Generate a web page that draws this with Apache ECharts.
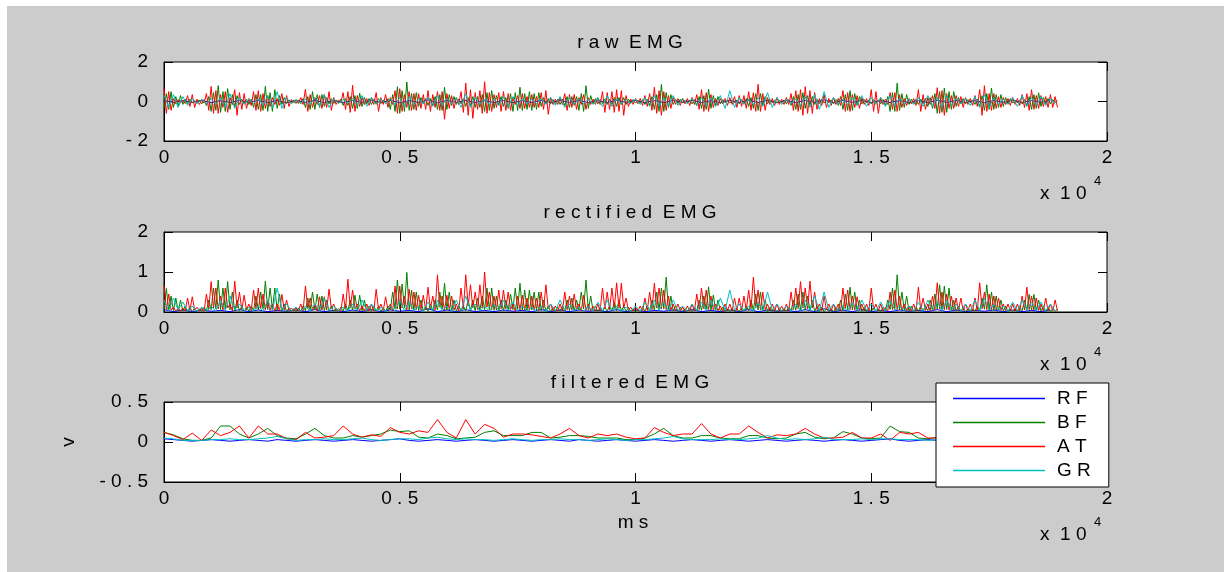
<!DOCTYPE html>
<html>
<head>
<meta charset="utf-8">
<script src="https://cdn.jsdelivr.net/npm/echarts@6/dist/echarts.min.js"></script>
<style>
html,body{margin:0;padding:0;background:#fff;}
#wrap{position:relative;width:1224px;height:572px;overflow:hidden;background:#fff;}
#bg{position:absolute;left:7px;top:6px;width:1217px;height:566px;background:#cccccc;}
#chart{position:absolute;left:0;top:0;width:1224px;height:572px;}
</style>
</head>
<body>
<div id="wrap"><div id="bg"></div><div id="chart"></div></div>
<script>
// ---- data ----
const seriesNames = ['RF', 'BF', 'AT', 'GR'];
const titles = ['raw EMG', 'rectified EMG', 'filtered EMG'];
const xTickScale = 10000;                       // axis shows x 10^4
const step50 = 50, step100 = 100, step200 = 200; // ms between samples

// raw EMG
const rawRF = [.06,-.05,.05,-.04,.05,-.06,.04,-.05,.06,-.04,
.05,-.05,.04,-.06,.05,-.04,.06,-.05,.04,-.05,
.05,-.04,.06,-.05,.05,-.06,.04,-.05,.08,-.06,
.05,-.04,.06,-.05,.04,-.05,.05,-.06,.04,-.05,
.06,-.05,.05,-.04,.05,-.06,.04,-.05,.06,-.04,
.05,-.05,.04,-.06,.05,-.04,.06,-.05,.04,-.05,
.05,-.04,.06,-.05,.05,-.06,.04,-.05,.06,-.04,
.08,-.06,.05,-.04,.06,-.05,.04,-.05,.05,-.06,
.04,-.05,.06,-.04,.05,-.05,.04,-.06,.05,-.04,
.06,-.05,.05,-.04,.05]; // 200 ms
const rawBF = [-.35,.4,-.4,.5,-.3,.25,-.25,.3,-.15,.12,
-.1,.12,-.08,.06,-.06,.08,-.12,.1,-.2,.25,
-.5,.45,-.45,.8,-.55,.5,-.5,.65,-.4,.35,
-.25,.3,-.15,.12,-.1,.12,-.15,.12,-.3,.35,
-.4,.35,-.45,.77,-.5,.45,-.5,.6,-.35,.3,
-.15,.2,-.1,.08,-.06,.08,-.1,.08,-.12,.15,
-.3,.25,-.4,.5,-.4,.35,-.3,.35,-.25,.2,
-.12,.15,-.1,.08,-.1,.12,-.2,.15,-.2,.25,
-.35,.3,-.35,.42,-.25,.2,-.12,.15,-.15,.12,
-.12,.15,-.1,.08,-.12,.15,-.4,.35,-.5,.75,
-.6,.55,-.5,.99,-.45,.4,-.4,.45,-.25,.2,
-.12,.15,-.2,.15,-.2,.25,-.4,.35,-.45,.72,
-.4,.35,-.2,.25,-.15,.12,-.12,.15,-.25,.2,
-.2,.25,-.3,.25,-.3,.35,-.5,.45,-.45,.55,
-.35,.3,-.2,.25,-.25,.2,-.35,.4,-.5,.45,
-.45,.72,-.45,.4,-.4,.5,-.45,.4,-.4,.45,
-.25,.2,-.12,.15,-.12,.1,-.1,.12,-.15,.12,
-.2,.25,-.3,.25,-.2,.25,-.45,.4,-.5,.8,
-.35,.3,-.12,.15,-.12,.1,-.1,.12,-.15,.12,
-.15,.2,-.25,.2,-.15,.2,-.15,.12,-.08,.1,
-.08,.06,-.08,.1,-.15,.12,-.2,.25,-.4,.35,
-.5,.87,-.5,.45,-.3,.35,-.15,.12,-.1,.12,
-.08,.06,-.06,.08,-.12,.1,-.2,.25,-.35,.3,
-.4,.63,-.35,.3,-.2,.25,-.12,.1,-.06,.08,
-.08,.06,-.06,.08,-.12,.1,-.12,.15,-.25,.2,
-.35,.4,-.45,.4,-.2,.25,-.12,.1,-.06,.08,
-.08,.06,-.06,.08,-.12,.1,-.2,.25,-.4,.35,
-.4,.45,-.35,.3,-.2,.25,-.15,.12,-.1,.12,
-.08,.06,-.06,.08,-.12,.1,-.2,.25,-.4,.35,
-.45,.55,-.45,.4,-.2,.25,-.12,.1,-.06,.08,
-.12,.1,-.06,.08,-.12,.1,-.2,.25,-.5,.45,
-.5,.93,-.45,.4,-.3,.35,-.15,.12,-.1,.12,
-.15,.12,-.12,.15,-.25,.2,-.35,.4,-.6,.5,
-.55,.68,-.55,.5,-.4,.5,-.25,.2,-.12,.15,
-.12,.1,-.06,.08,-.15,.12,-.25,.3,-.45,.4,
-.4,.68,-.4,.35,-.3,.35,-.25,.2,-.12,.15,
-.08,.06,-.06,.08,-.12,.1,-.2,.25,-.4,.35,
-.35,.44,-.25,.2,-.12,.15,-.12,.1,-.06,.08]; // 50 ms
const rawAT = [.67,-.6,.5,-.45,.15,-.12,.1,-.08,.08,-.1,
.3,-.25,.35,-.3,.12,-.15,.1,-.08,.4,-.45,
.76,-.6,.55,-.6,.35,-.3,.5,-.55,.2,-.15,
.6,-.7,.45,-.4,.4,-.35,.15,-.2,.5,-.45,
.55,-.5,.4,-.35,.3,-.25,.2,-.15,.15,-.2,
.4,-.35,.3,-.25,.1,-.08,.08,-.1,.2,-.15,
.62,-.5,.35,-.3,.2,-.15,.3,-.35,.35,-.3,
.5,-.45,.2,-.15,.08,-.06,.45,-.4,.5,-.55,
.82,-.5,.3,-.25,.2,-.15,.15,-.2,.2,-.15,
.45,-.5,.2,-.15,.35,-.3,.2,-.15,.55,-.6,
.65,-.5,.35,-.3,.5,-.45,.4,-.45,.4,-.35,
.35,-.4,.55,-.5,.35,-.3,.5,-.45,.5,-.9,
.4,-.35,.3,-.35,.2,-.15,.5,-.55,.93,-.7,
.6,-.85,.45,-.4,.55,-.6,1.0,-.6,.45,-.5,
.35,-.3,.45,-.5,.5,-.45,.4,-.45,.2,-.15,
.3,-.35,.4,-.35,.25,-.3,.35,-.3,.25,-.3,
.45,-.4,.55,-.65,.2,-.15,.12,-.15,.2,-.15,
.4,-.45,.35,-.3,.35,-.4,.2,-.15,.35,-.4,
.2,-.15,.12,-.15,.2,-.15,.5,-.55,.45,-.4,
.5,-.55,.6,-.5,.55,-.7,.3,-.25,.12,-.15,
.15,-.12,.15,-.2,.3,-.25,.4,-.45,.72,-.6,
.55,-.7,.5,-.45,.3,-.35,.2,-.15,.15,-.2,
.15,-.12,.15,-.2,.2,-.15,.35,-.4,.6,-.5,
.45,-.5,.35,-.3,.15,-.2,.15,-.12,.15,-.2,
.2,-.15,.25,-.3,.3,-.25,.3,-.35,.5,-.45,
.45,-.5,.87,-.5,.4,-.45,.2,-.15,.15,-.2,
.2,-.15,.12,-.15,.2,-.15,.4,-.45,.55,-.5,
.6,-.7,.75,-.6,.55,-.6,.45,-.4,.15,-.2,
.35,-.3,.15,-.2,.2,-.15,.15,-.2,.55,-.5,
.45,-.5,.35,-.3,.3,-.35,.2,-.15,.15,-.2,
.6,-.5,.5,-.6,.2,-.15,.12,-.15,.45,-.4,
.45,-.5,.35,-.3,.15,-.2,.15,-.12,.15,-.2,
.6,-.5,.35,-.4,.2,-.15,.3,-.35,.7,-.6,
.55,-.7,.4,-.35,.3,-.35,.3,-.25,.25,-.3,
.2,-.15,.15,-.2,.3,-.25,.6,-.7,.8,-.5,
.4,-.45,.4,-.35,.25,-.3,.2,-.15,.15,-.2,
.2,-.15,.15,-.2,.35,-.3,.4,-.45,.6,-.4,
.3,-.35,.3,-.25,.25,-.3,.35,-.3,.25,-.3]; // 50 ms
const rawGR = [.3,-.3,.35,-.3,.25,-.2,.15,-.12,.12,-.1,
.15,-.15,.2,-.3,.4,-.35,.2,-.15,.12,-.1,
.15,-.2,.3,-.3,.5,-.35,.2,-.12,.1,-.1,
.12,-.15,.2,-.25,.35,-.3,.15,-.1,.1,-.1,
.15,-.2,.3,-.25,.2,-.15,.12,-.1,.12,-.15,
.2,-.3,.25,-.2,.15,-.12,.2,-.25,.3,-.2,
.15,-.12,.2,-.3,.4,-.3,.2,-.15,.12,-.15,
.15,-.2,.25,-.3,.25,-.2,.15,-.12,.12,-.1,
.12,-.15,.2,-.2,.25,-.3,.2,-.15,.12,-.1,
.12,-.15,.2,-.25,.3,-.25,.15,-.12,.1,-.1,
.12,-.15,.2,-.25,.3,-.25,.2,-.25,.3,-.2,
.15,-.12,.15,-.2,.2,-.25,.2,-.25,.3,-.35,
.55,-.3,.2,-.15,.12,-.15,.2,-.25,.45,-.3,
.2,-.15,.12,-.12,.15,-.2,.25,-.3,.35,-.4,
.5,-.3,.2,-.15,.12,-.15,.2,-.2,.3,-.25,
.2,-.15,.2,-.25,.3,-.2,.15,-.12,.12,-.15,
.2,-.25,.3,-.25,.2,-.3,.3,-.2,.15,-.12,
.15,-.2,.25,-.3,.35,-.3,.2,-.15,.12,-.15,
.2,-.25,.3,-.25,.2,-.2,.25,-.2,.15,-.15]; // 100 ms

// rectified EMG
const recRF = [.06,.01,.05,.01,.05,.02,.04,.01,.06,.01,
.05,.01,.04,.02,.05,.01,.06,.01,.04,.01,
.05,.01,.06,.01,.05,.02,.04,.01,.08,.01,
.05,.01,.06,.01,.04,.01,.05,.02,.04,.01,
.06,.01,.05,.01,.05,.02,.04,.01,.06,.01,
.05,.01,.04,.02,.05,.01,.06,.01,.04,.01,
.05,.01,.06,.01,.05,.02,.04,.01,.06,.01,
.08,.01,.05,.01,.06,.01,.04,.01,.05,.02,
.04,.01,.06,.01,.05,.01,.04,.02,.05,.01,
.05,.01,.04,.01,.05]; // 200 ms
const recBF = [.05,.59,.04,.4,.03,.35,.03,.3,.02,.15,
.02,.12,.01,.1,.01,.08,.02,.12,.03,.3,
.06,.6,.08,.8,.06,.6,.08,.76,.05,.5,
.03,.3,.02,.15,.02,.12,.02,.15,.04,.4,
.05,.5,.08,.77,.06,.6,.06,.6,.05,.45,
.02,.2,.01,.1,.01,.08,.01,.1,.02,.15,
.03,.35,.05,.5,.05,.45,.04,.4,.03,.3,
.02,.15,.01,.1,.01,.12,.02,.2,.03,.3,
.04,.42,.04,.42,.03,.3,.02,.15,.02,.15,
.02,.15,.01,.1,.02,.15,.05,.5,.08,.8,
.07,.7,.1,.99,.05,.55,.05,.5,.03,.3,
.02,.15,.02,.2,.03,.3,.05,.5,.07,.72,
.05,.5,.03,.3,.02,.15,.02,.15,.03,.3,
.03,.3,.03,.35,.04,.4,.06,.6,.06,.6,
.04,.4,.03,.3,.03,.3,.05,.45,.06,.6,
.07,.72,.05,.55,.05,.55,.05,.5,.05,.5,
.03,.3,.02,.15,.01,.12,.01,.12,.02,.15,
.03,.3,.03,.35,.03,.3,.05,.5,.08,.8,
.04,.4,.02,.15,.01,.12,.01,.12,.02,.15,
.02,.25,.03,.3,.02,.15,.01,.12,.01,.08,
.01,.08,.01,.12,.02,.15,.03,.3,.05,.5,
.06,.6,.08,.87,.04,.4,.02,.15,.01,.12,
.01,.08,.01,.08,.01,.12,.03,.3,.04,.4,
.06,.63,.04,.42,.03,.3,.01,.12,.01,.08,
.01,.08,.01,.08,.01,.12,.02,.15,.03,.3,
.04,.45,.05,.5,.03,.3,.01,.12,.01,.08,
.01,.08,.01,.08,.01,.12,.03,.3,.04,.45,
.05,.5,.04,.4,.03,.3,.02,.15,.01,.12,
.01,.08,.01,.08,.01,.12,.03,.3,.04,.45,
.06,.62,.05,.5,.03,.3,.01,.12,.01,.08,
.01,.12,.01,.08,.01,.12,.03,.3,.06,.6,
.08,.93,.05,.5,.04,.4,.02,.15,.01,.12,
.02,.15,.02,.15,.03,.3,.05,.45,.07,.68,
.06,.65,.06,.6,.03,.3,.02,.15,.01,.12,
.01,.08,.01,.08,.02,.15,.03,.35,.07,.68,
.05,.5,.04,.4,.03,.3,.02,.15,.01,.08,
.01,.08,.01,.12,.03,.3,.04,.44,.04,.44,
.03,.3,.02,.15,.01,.12,.01,.08,.01,.08]; // 50 ms
const recAT = [.67,.06,.45,.05,.12,.02,.1,.02,.1,.03,
.35,.04,.38,.05,.12,.02,.1,.02,.45,.06,
.76,.1,.6,.08,.4,.05,.6,.1,.2,.03,
.77,.1,.5,.06,.42,.05,.2,.03,.55,.08,
.6,.08,.45,.06,.3,.04,.2,.03,.2,.03,
.44,.05,.3,.04,.1,.02,.1,.02,.2,.03,
.65,.08,.35,.05,.2,.03,.38,.05,.38,.05,
.57,.08,.2,.03,.08,.01,.45,.06,.82,.1,
.55,.08,.2,.03,.15,.02,.2,.03,.2,.03,
.57,.06,.2,.03,.38,.05,.2,.03,.65,.08,
.65,.1,.4,.05,.57,.08,.5,.06,.42,.05,
.42,.05,.62,.08,.4,.05,.93,.12,.4,.05,
.42,.05,.4,.05,.2,.03,.6,.08,.93,.15,
.68,.1,.5,.06,.68,.1,1.0,.12,.5,.06,
.4,.05,.55,.08,.55,.08,.5,.06,.2,.03,
.4,.05,.42,.05,.35,.04,.4,.05,.35,.04,
.5,.06,.68,.08,.2,.03,.15,.02,.2,.03,
.5,.06,.4,.05,.45,.06,.2,.03,.42,.05,
.2,.03,.15,.02,.2,.03,.6,.08,.5,.06,
.6,.08,.73,.1,.72,.1,.35,.04,.12,.02,
.12,.02,.15,.02,.35,.04,.5,.06,.72,.1,
.6,.08,.55,.06,.4,.05,.2,.03,.2,.03,
.12,.02,.15,.02,.2,.03,.45,.06,.6,.08,
.55,.06,.4,.05,.2,.03,.15,.02,.2,.03,
.2,.03,.35,.04,.35,.04,.4,.05,.55,.08,
.87,.1,.55,.06,.5,.06,.2,.03,.2,.03,
.2,.03,.15,.02,.2,.03,.5,.06,.6,.08,
.76,.1,.6,.08,.77,.1,.5,.06,.2,.03,
.4,.05,.2,.03,.2,.03,.2,.03,.6,.08,
.55,.06,.4,.05,.38,.05,.2,.03,.2,.03,
.6,.06,.2,.03,.2,.03,.12,.02,.5,.06,
.55,.06,.4,.05,.2,.03,.15,.02,.2,.03,
.62,.06,.35,.04,.2,.03,.4,.05,.73,.08,
.5,.06,.45,.05,.4,.05,.35,.04,.35,.04,
.2,.03,.2,.03,.35,.04,.73,.08,.5,.06,
.45,.05,.4,.05,.35,.04,.2,.03,.2,.03,
.2,.03,.2,.03,.4,.05,.62,.06,.4,.05,
.35,.04,.2,.03,.35,.04,.2,.03,.3,.03]; // 50 ms
const recGR = [.3,.03,.35,.05,.25,.03,.15,.02,.12,.02,
.15,.02,.3,.04,.4,.05,.2,.03,.12,.02,
.15,.02,.3,.04,.6,.05,.2,.03,.12,.02,
.15,.02,.2,.03,.35,.04,.15,.02,.12,.02,
.2,.03,.3,.04,.2,.03,.12,.02,.15,.02,
.3,.03,.25,.03,.15,.02,.25,.03,.3,.03,
.15,.02,.3,.04,.4,.05,.2,.03,.15,.02,
.2,.03,.3,.04,.25,.03,.15,.02,.12,.02,
.15,.02,.2,.03,.3,.04,.2,.03,.12,.02,
.15,.02,.25,.03,.3,.04,.15,.02,.12,.02,
.15,.02,.25,.03,.3,.04,.25,.03,.3,.03,
.15,.02,.2,.03,.25,.03,.3,.04,.35,.04,
.55,.05,.2,.03,.15,.02,.25,.03,.5,.05,
.2,.03,.15,.02,.2,.03,.3,.04,.4,.04,
.5,.05,.2,.03,.15,.02,.25,.03,.3,.04,
.2,.02,.25,.03,.3,.04,.15,.02,.15,.02,
.25,.03,.3,.04,.25,.03,.3,.04,.2,.02,
.2,.03,.3,.04,.35,.04,.2,.03,.15,.02,
.25,.03,.3,.04,.25,.03,.25,.03,.2,.02]; // 100 ms

// filtered EMG (200 ms)
const filRF = [.04,.03,.02,.01,.02,.03,.02,.01,.02,.03,
.02,.01,.03,.02,.01,.02,.03,.02,.01,.02,
.03,.02,.01,.02,.03,.04,.02,.01,.02,.03,
.02,.01,.02,.03,.02,.01,.02,.03,.02,.01,
.02,.03,.02,.01,.03,.02,.01,.02,.03,.02,
.01,.02,.03,.02,.01,.02,.03,.02,.01,.02,
.03,.02,.01,.02,.03,.02,.01,.02,.03,.02,
.01,.02,.03,.02,.01,.02,.03,.04,.02,.01,
.02,.03,.02,.01,.02,.03,.02,.01,.02,.03,
.02,.01,.02,.03,.02];
const filBF = [.12,.09,.04,.02,.02,.05,.2,.2,.1,.05,
.1,.17,.08,.05,.04,.1,.17,.08,.05,.05,
.08,.06,.08,.1,.15,.13,.14,.06,.05,.1,
.08,.04,.05,.06,.12,.14,.08,.08,.08,.12,
.12,.05,.06,.08,.08,.07,.05,.05,.05,.03,
.03,.05,.1,.17,.08,.05,.05,.08,.08,.05,
.04,.04,.08,.08,.05,.04,.05,.1,.12,.06,
.04,.05,.13,.1,.05,.04,.05,.2,.13,.12,
.05,.04,.06,.1,.08,.05,.06,.1,.08,.05,
.04,.08,.1,.06,.04];
const filAT = [.12,.08,.03,.11,.02,.15,.08,.12,.2,.05,
.2,.1,.1,.04,.03,.12,.05,.06,.08,.2,
.1,.06,.09,.07,.18,.12,.1,.14,.12,.28,
.12,.05,.28,.1,.22,.17,.06,.1,.1,.09,
.07,.05,.1,.17,.08,.05,.1,.08,.1,.06,
.04,.05,.18,.12,.08,.1,.1,.23,.1,.05,
.1,.1,.2,.12,.05,.09,.08,.1,.17,.1,
.05,.05,.06,.12,.05,.05,.1,.02,.12,.1,
.12,.05,.05,.08,.1,.07,.1,.15,.08,.06,
.08,.12,.1,.07,.05];
const filGR = [.05,.04,.02,.02,.02,.03,.03,.04,.03,.03,
.04,.05,.07,.04,.02,.03,.03,.04,.03,.03,
.04,.05,.03,.02,.03,.04,.04,.03,.05,.06,
.04,.03,.04,.03,.03,.02,.03,.04,.03,.02,
.03,.03,.04,.03,.03,.02,.03,.04,.03,.02,
.03,.03,.04,.05,.07,.04,.03,.03,.03,.04,
.03,.03,.04,.05,.08,.05,.03,.04,.03,.04,
.06,.03,.03,.03,.04,.03,.04,.04,.03,.03,
.03,.02,.03,.04,.03,.03,.04,.04,.03,.03,
.03,.04,.03,.03,.03];

// ---- chart ----
const FONT = "'Liberation Sans', Arial, Helvetica, sans-serif";
const colors = {RF: '#0000ff', BF: '#008000', AT: '#ff0000', GR: '#00bfbf'};
const spaced = s => String(s).split('').join(' ');

const panels = [
  {top: 62, height: 79, ymin: -2, ymax: 2, yint: 2,
   data: {RF: [rawRF, step200], BF: [rawBF, step50], AT: [rawAT, step50], GR: [rawGR, step100]}},
  {top: 232, height: 80, ymin: 0, ymax: 2, yint: 1,
   data: {RF: [recRF, step200], BF: [recBF, step50], AT: [recAT, step50], GR: [recGR, step100]}},
  {top: 402, height: 80, ymin: -0.5, ymax: 0.5, yint: 0.5,
   data: {RF: [filRF, step200], BF: [filBF, step200], AT: [filAT, step200], GR: [filGR, step200]}}
];
const LEFT = 164, WIDTH = 943;

const grids = [], xAxes = [], yAxes = [], series = [], graphics = [];
const tick = {inside: true, length: 9, lineStyle: {color: '#000', width: 1}};
const lbl = {color: '#000', fontSize: 19, fontFamily: FONT};

panels.forEach((p, g) => {
  grids.push({left: LEFT, top: p.top, width: WIDTH, height: p.height, show: true,
    backgroundColor: '#fff', borderColor: '#000', borderWidth: 1, containLabel: false});
  xAxes.push({gridIndex: g, type: 'value', min: 0, max: 20000, interval: 5000, position: 'bottom',
    axisLine: {show: true, onZero: false, lineStyle: {color: '#000'}}, axisTick: tick, splitLine: {show: false},
    axisLabel: Object.assign({margin: 7, showMinLabel: true, showMaxLabel: true,
      formatter: v => spaced(+(v / xTickScale).toFixed(1))}, lbl)});
  xAxes.push({gridIndex: g, type: 'value', min: 0, max: 20000, interval: 5000, position: 'top',
    axisLine: {show: false, onZero: false}, axisTick: tick, axisLabel: {show: false}, splitLine: {show: false}});
  yAxes.push({gridIndex: g, type: 'value', min: p.ymin, max: p.ymax, interval: p.yint, position: 'left',
    axisLine: {show: true, onZero: false, lineStyle: {color: '#000'}}, axisTick: tick, splitLine: {show: false},
    axisLabel: Object.assign({margin: 16, showMinLabel: true, showMaxLabel: true,
      formatter: v => spaced(v)}, lbl)});
  yAxes.push({gridIndex: g, type: 'value', min: p.ymin, max: p.ymax, interval: p.yint, position: 'right',
    axisLine: {show: false, onZero: false}, axisTick: tick, axisLabel: {show: false}, splitLine: {show: false}});
  seriesNames.forEach(name => {
    const [arr, st] = p.data[name];
    series.push({name, type: 'line', xAxisIndex: 2 * g, yAxisIndex: 2 * g,
      data: arr.map((v, i) => [i * st, v]), symbol: 'none', showSymbol: false,
      lineStyle: {width: 1, color: colors[name]}, itemStyle: {color: colors[name]},
      animation: false, silent: true, clip: true});
  });
  graphics.push({type: 'text', x: 630, y: p.top - 19,
    style: {text: titles[g].split(' ').map(spaced).join('  '), fontSize: 19, fontFamily: FONT,
      fill: '#000', textAlign: 'center', textVerticalAlign: 'middle'}});
  const by = p.top + p.height + 53;
  graphics.push({type: 'text', x: 1040, y: by,
    style: {text: 'x  ' + spaced('10'), fontSize: 19, fontFamily: FONT, fill: '#000',
      textAlign: 'left', textVerticalAlign: 'middle'}});
  graphics.push({type: 'text', x: 1094, y: by - 13,
    style: {text: '4', fontSize: 13, fontFamily: FONT, fill: '#000',
      textAlign: 'left', textVerticalAlign: 'middle'}});
});

graphics.push({type: 'text', x: 633, y: 523,
  style: {text: spaced('ms'), fontSize: 19, fontFamily: FONT, fill: '#000',
    textAlign: 'center', textVerticalAlign: 'middle'}});
graphics.push({type: 'text', x: 69, y: 442, rotation: Math.PI / 2,
  style: {text: 'v', fontSize: 19, fontFamily: FONT, fill: '#000',
    textAlign: 'center', textVerticalAlign: 'middle'}});

const chart = echarts.init(document.getElementById('chart'), null, {renderer: 'canvas'});
chart.setOption({
  animation: false,
  backgroundColor: 'transparent',
  grid: grids, xAxis: xAxes, yAxis: yAxes, series,
  graphic: graphics,
  legend: {
    data: seriesNames.map(n => ({name: n, icon: 'rect'})),
    orient: 'vertical', left: 936, top: 383,
    padding: [6, 18, 7, 17], itemGap: 5, itemWidth: 92, itemHeight: 1.5,
    backgroundColor: '#fff', borderColor: '#000', borderWidth: 1, borderRadius: 0,
    selectedMode: false, z: 10,
    formatter: n => spaced(n),
    textStyle: {color: '#000', fontSize: 19, fontFamily: FONT, lineHeight: 19, padding: [0, 0, 0, 7]}
  }
});
</script>
</body>
</html>
